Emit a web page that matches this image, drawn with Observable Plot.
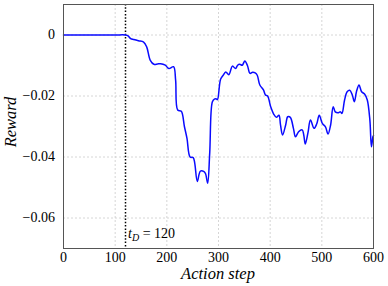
<!DOCTYPE html>
<html>
<head>
<meta charset="utf-8">
<script src="https://cdn.jsdelivr.net/npm/d3@7"></script>
<script src="https://cdn.jsdelivr.net/npm/@observablehq/plot@0.6"></script>
<style>
  html, body { margin: 0; padding: 0; background: #fff; }
  svg { display: block; }
  #chart svg, #chart svg text, #chart svg tspan { font-family: "Liberation Serif", "Times New Roman", Times, serif !important; }
</style>
</head>
<body>
<div id="chart"></div>
<script>
const steps = [0, 50, 100, 120, 125, 130, 136, 145, 155, 161, 168, 175, 182, 188, 197, 204, 213, 217, 221, 228, 234, 239, 245, 251, 254, 259, 265, 272, 275, 279, 283, 288, 292, 296, 298, 304, 309, 314, 320, 327, 333, 337, 341, 346, 351, 356, 361, 366, 371, 375, 380, 387, 391, 395, 401, 407, 412, 417, 420, 424, 430, 434, 439, 445, 449, 455, 462, 465, 468, 473, 478, 485, 490, 495, 501, 507, 512, 517, 522, 526, 531, 536, 539, 544, 549, 554, 559, 563, 567, 572, 577, 583, 588, 593, 596, 599, 600];
const rewards = [0, 0, 0, 0, -0.0003, -0.0012, -0.0015, -0.0019, -0.0023, -0.0039, -0.0083, -0.0096, -0.0095, -0.0094, -0.0099, -0.0110, -0.0104, -0.0148, -0.0246, -0.0250, -0.0300, -0.0339, -0.0400, -0.0402, -0.0420, -0.0480, -0.0446, -0.0448, -0.0455, -0.0486, -0.0387, -0.0220, -0.0210, -0.0210, -0.0212, -0.0145, -0.0132, -0.0121, -0.0130, -0.0102, -0.0110, -0.0099, -0.0096, -0.0099, -0.0085, -0.0100, -0.0126, -0.0122, -0.0124, -0.0132, -0.0164, -0.0180, -0.0197, -0.0200, -0.0235, -0.0260, -0.0270, -0.0263, -0.0295, -0.0328, -0.0295, -0.0268, -0.0270, -0.0306, -0.0334, -0.0317, -0.0311, -0.0328, -0.0357, -0.0322, -0.0279, -0.0306, -0.0292, -0.0263, -0.0290, -0.0301, -0.0325, -0.0295, -0.0235, -0.0252, -0.0255, -0.0252, -0.0257, -0.0213, -0.0186, -0.0181, -0.0197, -0.0219, -0.0186, -0.0164, -0.0186, -0.0194, -0.0213, -0.0279, -0.0366, -0.0333, -0.0330];
const xTicks = [0, 100, 200, 300, 400, 500, 600];
const yTicks = [0, -0.02, -0.04, -0.06];
const tD = 120;
const xLabel = "Action step";
const yLabel = "Reward";

const data = steps.map((s, i) => ({step: s, reward: rewards[i]}));
const fmtY = d => d === 0 ? "0" : "\u2212" + Math.abs(d).toFixed(2);

const plot = Plot.plot({
  width: 388,
  height: 286,
  marginLeft: 63,
  marginRight: 15,
  marginTop: 4,
  marginBottom: 38,
  style: {fontSize: "14px", background: "#fff", color: "#000"},
  x: {domain: [0, 600], ticks: xTicks},
  y: {domain: [-0.07, 0.01], ticks: yTicks},
  marks: [
    Plot.gridX(xTicks, {stroke: "#ccc", strokeOpacity: 1, strokeDasharray: "2,2", strokeWidth: 0.8}),
    Plot.gridY(yTicks, {stroke: "#ccc", strokeOpacity: 1, strokeDasharray: "2,2", strokeWidth: 0.8}),
    Plot.axisX(xTicks, {tickSize: 0, tickPadding: 4, fontSize: 14, label: null}),
    Plot.axisY(yTicks, {tickSize: 0, tickPadding: 8.5, fontSize: 14, tickFormat: fmtY, label: null}),
    Plot.ruleX([tD], {stroke: "#000", strokeWidth: 1.5, strokeDasharray: "1.5,1.8"}),
    Plot.line(data, {x: "step", y: "reward", stroke: "#0a0aff", strokeWidth: 1.5, curve: "catmull-rom"}),
    Plot.frame({stroke: "#555", strokeWidth: 1})
  ]
});

document.getElementById("chart").appendChild(plot);

const svg = d3.select(plot);
const xs = plot.scale("x");
const ys = plot.scale("y");

// t_D label
const lbl = svg.append("text")
  .attr("x", xs.apply(tD) + 3)
  .attr("y", 238)
  .attr("text-anchor", "start")
  .attr("font-size", 14)
  .attr("fill", "#000");
lbl.append("tspan").attr("font-style", "italic").text("t");
lbl.append("tspan").attr("font-style", "italic").attr("font-size", 10).attr("dy", 3).text("D");
lbl.append("tspan").attr("dy", -3).text(" = " + tD);

// axis labels
svg.append("text")
  .attr("x", (xs.apply(0) + xs.apply(600)) / 2)
  .attr("y", 279)
  .attr("text-anchor", "middle")
  .attr("font-style", "italic")
  .attr("font-size", 16.5)
  .attr("fill", "#000")
  .text(xLabel);

svg.append("text")
  .attr("transform", `translate(16, ${(ys.apply(-0.07) + ys.apply(0.01)) / 2 - 4}) rotate(-90)`)
  .attr("text-anchor", "middle")
  .attr("font-style", "italic")
  .attr("font-size", 16.5)
  .attr("fill", "#000")
  .text(yLabel);
</script>
</body>
</html>
